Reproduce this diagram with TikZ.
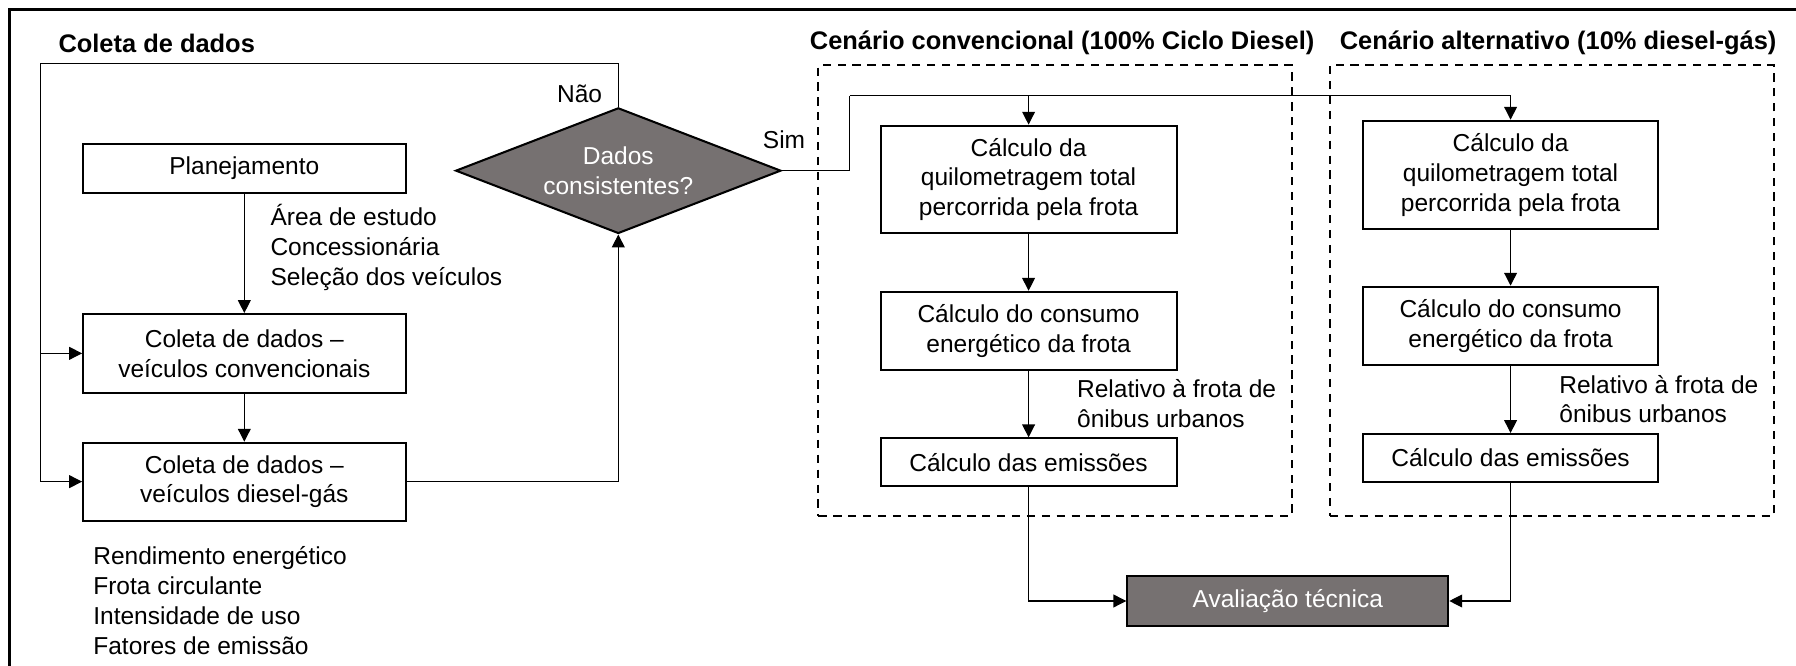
\documentclass[tikz,border=0pt]{standalone}
\usepackage{fontspec}
\setmainfont{Liberation Sans}
\usetikzlibrary{shapes.geometric,arrows.meta}
\definecolor{darkfill}{RGB}{118,113,113}
\begin{document}
\begin{tikzpicture}[x=0.5pt,y=-0.5pt,
  txt/.style={font=\fontsize{10.7}{13}\selectfont, inner sep=0pt},
  box/.style={draw=black, line width=0.9pt, fill=white, align=center, font=\fontsize{10.7}{13}\selectfont, inner sep=0pt},
  ttl/.style={font=\bfseries\fontsize{11.1}{13}\selectfont, inner sep=0pt},
  conn/.style={line width=0.5pt, -{Triangle[length=5.6pt,width=5.6pt]}},
  plainline/.style={line width=0.5pt},
  scen/.style={draw, line width=0.9pt, dash pattern=on 3.6pt off 2.9pt, inner sep=0pt}
]
\useasboundingbox (0,0) rectangle (1568,581.4);
% frame
\draw[line width=1.3pt] (1600,8.7) -- (8.6,8.7) -- (8.6,600);

% titles
\node[ttl, anchor=west] (t1) at (50.7,37.8) {Coleta de dados};
\node[ttl] (t2) at (927.3,37.8) {Cenário convencional (100\% Ciclo Diesel)};
\node[ttl] (t3) at (1360.3,37.8) {Cenário alternativo (10\% diesel-gás)};

% scenario frames
\node[scen, minimum width=206.65pt, minimum height=196.65pt] (sc1) at (921.15,253.55) {};
\node[scen, minimum width=194pt, minimum height=196.6pt] (sc2) at (1355,253.6) {};

% left column
\node[box, minimum width=140.75pt, minimum height=21.25pt] (plan) at (213.3,147) {Planejamento};
\node[box, minimum width=140.75pt, minimum height=34.3pt] (col1) at (213.3,308.5) {Coleta de dados –\\veículos convencionais};
\node[box, minimum width=140.75pt, minimum height=34pt] (col2) at (213.3,420.5) {Coleta de dados –\\veículos diesel-gás};
\node[diamond, draw=black, fill=darkfill, line width=0.9pt, aspect=2.6, minimum width=142pt, minimum height=54.85pt, inner sep=0pt, align=center, text=white, font=\fontsize{10.7}{13}\selectfont] (dec) at (539.8,149) {Dados\\consistentes?};

% conventional scenario
\node[box, minimum width=129.25pt, minimum height=47pt] (c1) at (898,156.7) {Cálculo da\\quilometragem total\\percorrida pela frota};
\node[box, minimum width=129.25pt, minimum height=34.15pt] (c2) at (898,288.9) {Cálculo do consumo\\energético da frota};
\node[box, minimum width=129.25pt, minimum height=20.8pt] (c3) at (898,403.5) {Cálculo das emissões};

% alternative scenario
\node[box, minimum width=128.8pt, minimum height=47.3pt] (a1) at (1318.8,152.7) {Cálculo da\\quilometragem total\\percorrida pela frota};
\node[box, minimum width=128.8pt, minimum height=34.2pt] (a2) at (1318.8,284.5) {Cálculo do consumo\\energético da frota};
\node[box, minimum width=128.8pt, minimum height=20.8pt] (a3) at (1318.8,399.7) {Cálculo das emissões};

% evaluation
\node[box, fill=darkfill, text=white, minimum width=140.1pt, minimum height=21.8pt] (aval) at (1124.3,524.7) {Avaliação técnica};

% labels
\node[txt, anchor=west, align=left] (l1) at (235.8,216.1) {Área de estudo\\Concessionária\\Seleção dos veículos};
\node[txt, anchor=west, align=left] (l2) at (81.1,524.4) {Rendimento energético\\Frota circulante\\Intensidade de uso\\Fatores de emissão};
\node[txt, anchor=west, align=left] (l3) at (940,352.5) {Relativo à frota de\\ônibus urbanos};
\node[txt, anchor=west, align=left] (l4) at (1361,348.5) {Relativo à frota de\\ônibus urbanos};
\node[txt] (nao) at (506,81.5) {Não};
\node[txt] (sim) at (684.5,122) {Sim};

% junction coordinates
\coordinate (lp) at (35.1,55.3);
\coordinate (sj) at (742,83.7);

% connectors
\draw[conn] (plan) -- (col1);
\draw[conn] (col1) -- (col2);
\draw[conn] (col2.east) -| (dec.south);
\draw[plainline] (dec.north) |- (lp);
\draw[conn] (lp) |- (col1.west);
\draw[conn] (lp) |- (col2.west);
\draw[plainline] (dec.east) -| (sj);
\draw[conn] (sj) -| (c1.north);
\draw[conn] (sj) -| (a1.north);
\draw[conn] (c1) -- (c2);
\draw[conn] (c2) -- (c3);
\draw[conn] (a1) -- (a2);
\draw[conn] (a2) -- (a3);
\draw[conn] (c3.south) |- (aval.west);
\draw[conn] (a3.south) |- (aval.east);
\end{tikzpicture}
\end{document}
